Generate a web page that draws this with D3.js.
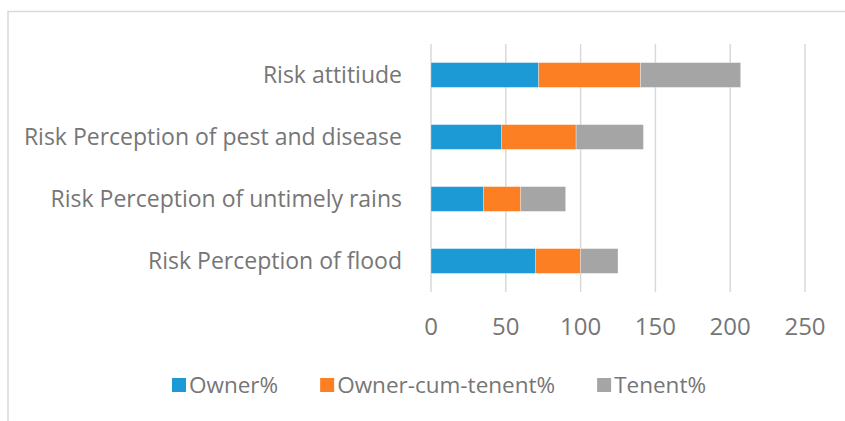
<!DOCTYPE html>
<html>
<head>
<meta charset="utf-8">
<script src="https://cdn.jsdelivr.net/npm/d3@7"></script>
<style>
  html, body { margin: 0; padding: 0; background: #fff; }
  svg { display: block; }
  text { font-family: "Open Sans", "Noto Sans", sans-serif; fill: #767676; }
</style>
</head>
<body>
<svg id="chart" width="845" height="421"></svg>
<script>
// categories, top to bottom as shown
var categories = [
    'Risk attitiude',
    'Risk Perception of pest and disease',
    'Risk Perception of untimely rains',
    'Risk Perception of flood'
];
var seriesNames = ['Owner%', 'Owner-cum-tenent%', 'Tenent%'];
var ownerPct = [72, 47, 35, 70];
var ownerCumTenentPct = [68, 50, 25, 30];
var tenentPct = [67, 45, 30, 25];
var xTicks = [0, 50, 100, 150, 200, 250];
var colors = ['#1b9ad6', '#fd7f23', '#a5a5a5'];

(function () {
    'use strict';

    var svg = d3.select('#chart');
    var W = 845, H = 421;

    // outer chart border (runs off the right / bottom edge)
    svg.append('rect')
        .attr('x', 8).attr('y', 11.5)
        .attr('width', W).attr('height', H)
        .attr('fill', 'none')
        .attr('stroke', '#d9d9d9')
        .attr('stroke-width', 1.5);

    var x = d3.scaleLinear().domain([0, 250]).range([431, 805]);
    var y = d3.scaleBand().domain(categories).range([44, 292])
        .paddingInner(0.6).paddingOuter(0.3);

    // vertical gridlines
    svg.append('g').selectAll('line')
        .data(xTicks)
        .enter().append('line')
        .attr('x1', function (d) { return x(d); })
        .attr('x2', function (d) { return x(d); })
        .attr('y1', 44).attr('y2', 292)
        .attr('stroke', '#d9d9d9')
        .attr('stroke-width', 1.5);

    // stack rows
    var rows = categories.map(function (c, i) {
        return { cat: c, s0: ownerPct[i], s1: ownerCumTenentPct[i], s2: tenentPct[i] };
    });
    var stack = d3.stack().keys(['s0', 's1', 's2']);
    var layers = stack(rows);

    svg.append('g').selectAll('g')
        .data(layers)
        .enter().append('g')
        .attr('fill', function (d, i) { return colors[i]; })
        .selectAll('rect')
        .data(function (d) { return d; })
        .enter().append('rect')
        .attr('x', function (d) { return x(d[0]); })
        .attr('width', function (d) { return x(d[1]) - x(d[0]); })
        .attr('y', function (d) { return y(d.data.cat); })
        .attr('height', y.bandwidth())
        .attr('stroke', '#fff')
        .attr('stroke-opacity', 0.5)
        .attr('stroke-width', 0.6);

    // category labels
    svg.append('g').selectAll('text')
        .data(categories)
        .enter().append('text')
        .attr('x', 402)
        .attr('y', function (d) { return y(d) + y.bandwidth() / 2; })
        .attr('dy', '0.35em')
        .attr('text-anchor', 'end')
        .attr('font-size', '23px')
        .text(function (d) { return d; });

    // x tick labels
    svg.append('g').selectAll('text')
        .data(xTicks)
        .enter().append('text')
        .attr('x', function (d) { return x(d); })
        .attr('y', 335)
        .attr('text-anchor', 'middle')
        .attr('font-size', '24px')
        .text(function (d) { return d; });

    // legend, centred under the chart
    var legend = svg.append('g');
    var items = legend.selectAll('g')
        .data(seriesNames)
        .enter().append('g');
    items.append('rect')
        .attr('width', 14).attr('height', 14)
        .attr('y', 378)
        .attr('fill', function (d, i) { return colors[i]; });
    items.append('text')
        .attr('x', 17)
        .attr('y', 393)
        .attr('font-size', '22.5px')
        .text(function (d) { return d; });

    var gap = 42, cx = 0, offsets = [];
    items.each(function () {
        offsets.push(cx);
        cx += this.getBBox().width + gap;
    });
    var total = cx - gap;
    var start = 439 - total / 2;
    items.attr('transform', function (d, i) {
        return 'translate(' + (start + offsets[i]) + ',0)';
    });
})();
</script>
</body>
</html>
